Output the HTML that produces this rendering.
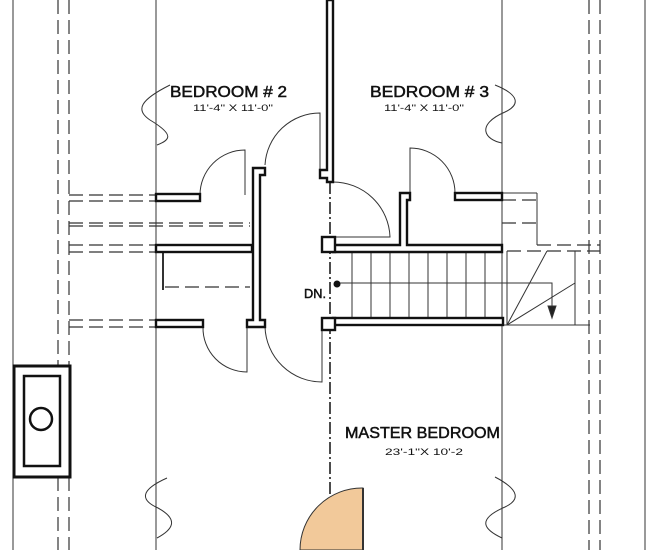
<!DOCTYPE html>
<html><head><meta charset="utf-8"><style>
html,body{margin:0;padding:0;background:#fff;}
svg{display:block;}
text{font-family:"Liberation Sans",sans-serif;fill:#111;}
</style></head><body>
<svg width="660" height="550" viewBox="0 0 660 550" xmlns="http://www.w3.org/2000/svg">
<g stroke="#333" fill="none" stroke-width="1">
  <line x1="13" y1="0" x2="13" y2="550"/>
  <line x1="645" y1="0" x2="645" y2="550"/>
  <line x1="156" y1="0" x2="156" y2="550"/>
  <line x1="502" y1="0" x2="502" y2="550"/>
  <g stroke-dasharray="14,6" stroke-width="1.2">
    <line x1="58" y1="0" x2="58" y2="365"/>
    <line x1="58" y1="477" x2="58" y2="550"/>
    <line x1="69" y1="0" x2="69" y2="195"/>
    <line x1="69" y1="201" x2="69" y2="365"/>
    <line x1="69" y1="477" x2="69" y2="550"/>
    <line x1="589" y1="0" x2="589" y2="550"/>
    <line x1="600" y1="0" x2="600" y2="550"/>
    <line x1="69" y1="195" x2="156" y2="195"/>
    <line x1="69" y1="201" x2="156" y2="201"/>
    <line x1="69" y1="223" x2="250" y2="223"/>
    <line x1="69" y1="226" x2="250" y2="226"/>
    <line x1="69" y1="245" x2="156" y2="245"/>
    <line x1="69" y1="252" x2="156" y2="252"/>
    <line x1="165" y1="287" x2="250" y2="287"/>
    <line x1="69" y1="320" x2="156" y2="320"/>
    <line x1="69" y1="327" x2="156" y2="327"/>
    <line x1="502" y1="200" x2="537" y2="200"/>
    <line x1="502" y1="223" x2="537" y2="223"/>
    <line x1="537" y1="245" x2="600" y2="245"/>
    <line x1="507" y1="251" x2="600" y2="251"/>
  </g>
  <line x1="502" y1="193" x2="537" y2="193"/>
  <line x1="537" y1="193" x2="537" y2="245"/>
  <line x1="163" y1="252" x2="163" y2="290" stroke-width="2"/>
  <path d="M170,85 C140,100 135,110 150,120 C175,135 170,140 157,145"/>
  <path d="M495,85 C520,95 520,105 505,112 C475,125 485,140 502,143"/>
  <path d="M167,478 C140,490 140,500 158,508 C180,520 172,530 157,538"/>
  <path d="M495,477 C520,490 520,500 505,507 C475,520 485,530 502,538"/>
  <path d="M200,195 A45,45 0 0 1 245,150 L245,195"/>
  <path d="M265,165 A55,55 0 0 1 320,113 L320,170"/>
  <path d="M410,195 L410,148 A45,45 0 0 1 455,193"/>
  <path d="M333,182 A57,57 0 0 1 390,237 L333,237"/>
  <path d="M203,327 A44,44 0 0 0 247,372 L247,327"/>
  <path d="M265,327 A57,57 0 0 0 322,382 L322,327"/>
  <g stroke-width="1">
    <line x1="352" y1="252" x2="352" y2="318"/>
    <line x1="371" y1="252" x2="371" y2="318"/>
    <line x1="390" y1="252" x2="390" y2="318"/>
    <line x1="409" y1="252" x2="409" y2="318"/>
    <line x1="428" y1="252" x2="428" y2="318"/>
    <line x1="447" y1="252" x2="447" y2="318"/>
    <line x1="466" y1="252" x2="466" y2="318"/>
    <line x1="485" y1="252" x2="485" y2="318"/>
    <line x1="507" y1="251" x2="507" y2="325"/>
    <line x1="575" y1="251" x2="575" y2="325"/>
    <line x1="502" y1="325" x2="590" y2="325"/>
    <line x1="507" y1="325" x2="547" y2="251"/>
    <line x1="507" y1="325" x2="575" y2="283"/>
    <path d="M337,283 L552,283 L552,314"/>
  </g>
  <path d="M548,306 L552,318 L556,306 Z" fill="#222"/>
  <line x1="330" y1="182" x2="330" y2="550" stroke="#111" stroke-width="1.5" stroke-dasharray="12,3,2,3"/>
</g>
<path d="M363,550 L363,488 A62,62 0 0 0 300,550 Z" fill="#f2c99a" stroke="#333" stroke-width="1"/>
<line x1="363" y1="488" x2="363" y2="550" stroke="#333" stroke-width="2"/>
<g fill="#fff" stroke="#111" stroke-width="2.4">
  <rect x="156" y="194" width="44" height="7"/>
  <rect x="156" y="245" width="96" height="7"/>
  <rect x="156" y="320" width="47" height="7"/>
  <path d="M253,168 L265,168 L265,175 L260,175 L260,320 L265,320 L265,327 L247,327 L247,320 L253,320 Z"/>
  <rect x="455" y="193" width="47" height="7"/>
  <path d="M333,245 L400,245 L400,193 L410,193 L410,200 L407,200 L407,245 L502,245 L502,252 L333,252 Z"/>
  <rect x="333" y="318" width="170" height="7"/>
  <path d="M327,0 L333,0 L333,182 L327,182 L327,178 L320,178 L320,170 L327,170 Z"/>
  <rect x="322" y="237" width="13" height="15"/>
  <rect x="322" y="318" width="13" height="12"/>
</g>
<line x1="330" y1="5" x2="330" y2="165" stroke="#fff" stroke-width="1" stroke-dasharray="3,8"/>
<circle cx="337" cy="284" r="3.5" fill="#111"/>
<rect x="14" y="366" width="56" height="111" fill="#fff" stroke="#111" stroke-width="3"/>
<rect x="24" y="376" width="36" height="90" fill="none" stroke="#111" stroke-width="2.5"/>
<circle cx="41" cy="419" r="11" fill="none" stroke="#111" stroke-width="2.5"/>
<g stroke="#111" stroke-width="0.5">
<text x="170" y="97" font-size="16" textLength="117" lengthAdjust="spacingAndGlyphs">BEDROOM  # 2</text>
<text x="370" y="97" font-size="16" textLength="119" lengthAdjust="spacingAndGlyphs">BEDROOM  # 3</text>
<text x="345" y="438" font-size="16" textLength="155" lengthAdjust="spacingAndGlyphs">MASTER BEDROOM</text>
<text x="304" y="298" font-size="13" textLength="22" lengthAdjust="spacingAndGlyphs">DN.</text>
</g>
<text x="193" y="111" font-size="9" textLength="80" lengthAdjust="spacingAndGlyphs">11'-4"  X  11'-0"</text>
<text x="384" y="111" font-size="9" textLength="80" lengthAdjust="spacingAndGlyphs">11'-4"  X  11'-0"</text>
<text x="385" y="455" font-size="9" textLength="78" lengthAdjust="spacingAndGlyphs">23'-1"X  10'-2</text>
</svg>
</body></html>
